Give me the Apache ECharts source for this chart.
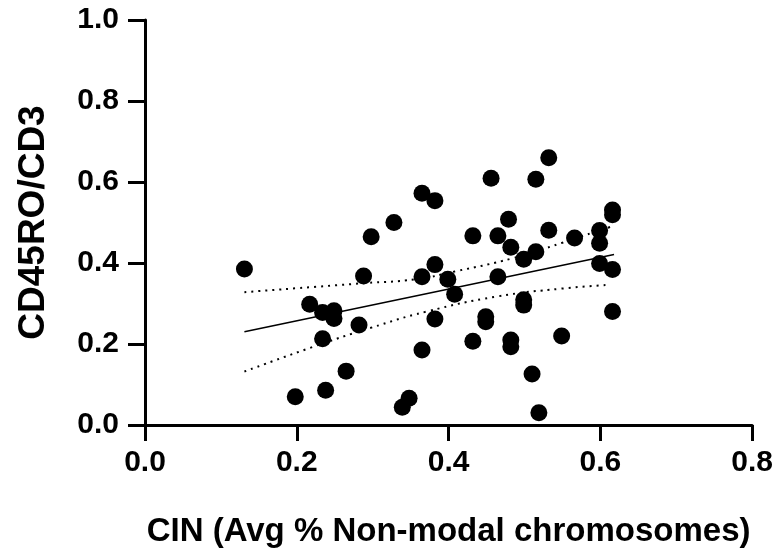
<!DOCTYPE html>
<html>
<head>
<meta charset="utf-8">
<script src="https://cdn.jsdelivr.net/npm/echarts@6/dist/echarts.min.js"></script>
<style>
html, body { margin: 0; padding: 0; background: #fff; }
#chart { width: 776px; height: 554px; }
</style>
</head>
<body>
<div id="chart"></div>
<script>
// CIN vs CD45RO/CD3
const cinValues = [
  0.131, 0.217, 0.234, 0.249, 0.249, 0.234, 0.198, 0.238, 0.265, 0.282,
  0.288, 0.298, 0.328, 0.365, 0.382, 0.382, 0.365, 0.399, 0.408, 0.382,
  0.365, 0.348, 0.339, 0.432, 0.432, 0.456, 0.449, 0.449, 0.465, 0.465,
  0.479, 0.482, 0.482, 0.482, 0.499, 0.499, 0.499, 0.515, 0.515, 0.510,
  0.519, 0.532, 0.532, 0.549, 0.566, 0.599, 0.599, 0.599, 0.616, 0.616,
  0.616, 0.616
];
const cd45Values = [
  0.385, 0.298, 0.278, 0.282, 0.263, 0.213, 0.070, 0.086, 0.133, 0.247,
  0.368, 0.465, 0.500, 0.572, 0.554, 0.396, 0.366, 0.360, 0.323, 0.262,
  0.185, 0.066, 0.044, 0.467, 0.207, 0.609, 0.267, 0.255, 0.467, 0.366,
  0.508, 0.439, 0.210, 0.193, 0.409, 0.309, 0.296, 0.607, 0.428, 0.126,
  0.030, 0.660, 0.481, 0.220, 0.462, 0.480, 0.449, 0.399, 0.531, 0.519,
  0.384, 0.280
];

// fitted line and 95% band, as drawn
const fitX = [0.131, 0.618];
const fitY = [0.230, 0.421];
const upperX = [0.131, 0.287, 0.357, 0.408, 0.485, 0.550, 0.590, 0.618];
const upperY = [0.328, 0.350, 0.360, 0.379, 0.412, 0.450, 0.475, 0.492];
const lowerX = [0.131, 0.2215, 0.296, 0.371, 0.463, 0.550, 0.612];
const lowerY = [0.132, 0.193, 0.239, 0.280, 0.317, 0.337, 0.346];

const xTicks = [0, 0.2, 0.4, 0.6, 0.8];
const yTicks = [0, 0.2, 0.4, 0.6, 0.8, 1.0];

const zip = (a, b) => a.map((v, i) => [v, b[i]]);

const font = "'Liberation Sans', Arial, sans-serif";
const axisStyle = { color: '#000', width: 3 };

const chart = echarts.init(document.getElementById('chart'));

chart.setOption({
  backgroundColor: '#fff',
  animation: false,
  grid: { left: 145, right: 23, top: 20, bottom: 129 },
  xAxis: {
    type: 'value',
    min: xTicks[0],
    max: xTicks[xTicks.length - 1],
    interval: 0.2,
    name: 'CIN (Avg % Non-modal chromosomes)',
    nameLocation: 'middle',
    nameGap: 90,
    nameTextStyle: { fontFamily: font, fontWeight: 'bold', fontSize: 33, color: '#000' },
    axisLine: { onZero: false, lineStyle: axisStyle },
    axisTick: { length: 16, lineStyle: axisStyle },
    axisLabel: {
      margin: 23,
      fontFamily: font, fontWeight: 'bold', fontSize: 30, color: '#000',
      formatter: v => v.toFixed(1)
    },
    splitLine: { show: false }
  },
  yAxis: {
    type: 'value',
    min: yTicks[0],
    max: yTicks[yTicks.length - 1],
    interval: 0.2,
    name: 'CD45RO/CD3',
    nameLocation: 'middle',
    nameGap: 93,
    nameTextStyle: { fontFamily: font, fontWeight: 'bold', fontSize: 37, color: '#000' },
    axisLine: { onZero: false, lineStyle: axisStyle },
    axisTick: { length: 17, lineStyle: axisStyle },
    axisLabel: {
      margin: 26,
      fontFamily: font, fontWeight: 'bold', fontSize: 30, color: '#000',
      formatter: v => v.toFixed(1)
    },
    splitLine: { show: false }
  },
  series: [
    {
      type: 'line',
      data: zip(upperX, upperY),
      smooth: true,
      symbol: 'none',
      lineStyle: { color: '#000', width: 2, type: [2, 5] },
      z: 1
    },
    {
      type: 'line',
      data: zip(lowerX, lowerY),
      smooth: true,
      symbol: 'none',
      lineStyle: { color: '#000', width: 2, type: [2, 5] },
      z: 1
    },
    {
      type: 'line',
      data: zip(fitX, fitY),
      symbol: 'none',
      lineStyle: { color: '#000', width: 1.5 },
      z: 2
    },
    {
      type: 'scatter',
      data: zip(cinValues, cd45Values),
      symbol: 'circle',
      symbolSize: 17,
      itemStyle: { color: '#000', opacity: 1 },
      z: 3
    }
  ]
});
</script>
</body>
</html>
